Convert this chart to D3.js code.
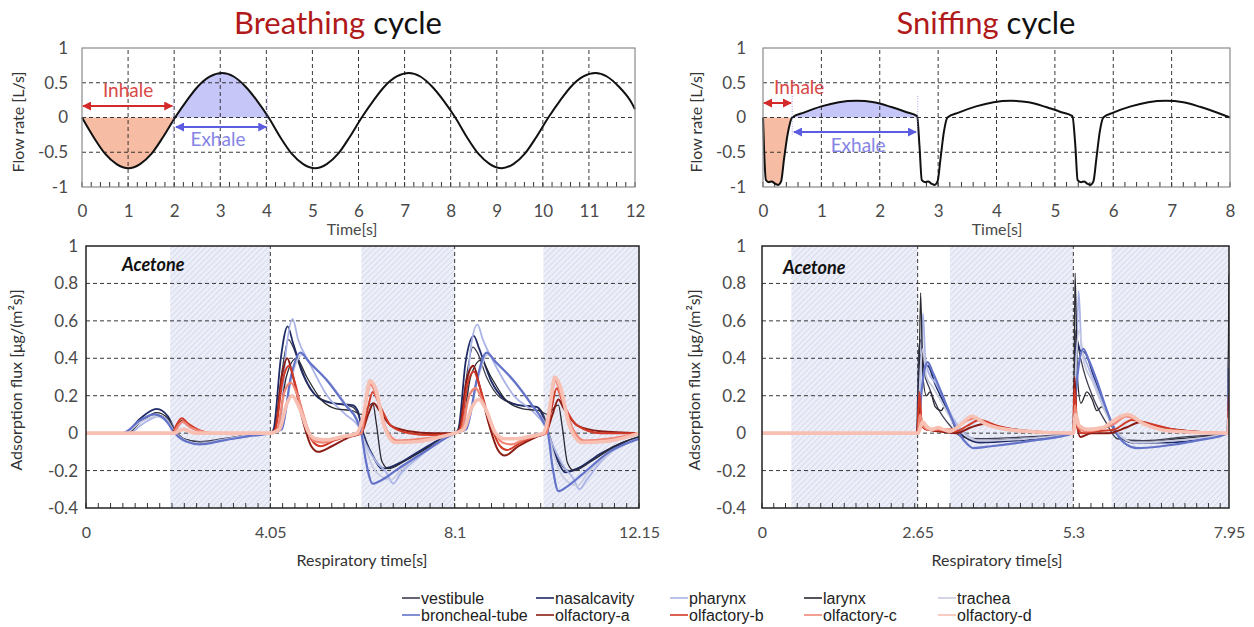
<!DOCTYPE html>
<html>
<head>
<meta charset="utf-8">
<script src="https://cdn.jsdelivr.net/npm/d3@7"></script>
<style>
  body { margin: 0; background: #fff; }
  svg { display: block; }
</style>
</head>
<body>
<svg id="chart" width="1254" height="627"></svg>
<script>
// ---- flow rate curves (top panels) ----
const breathFlow = [[0,0],[0.25,-0.28],[0.5,-0.52],[0.75,-0.67],[1.01,-0.73],[1.26,-0.67],[1.51,-0.52],[1.76,-0.28],[2.02,0],
  [2.27,0.24],[2.52,0.45],[2.78,0.59],[3.04,0.64],[3.29,0.59],[3.54,0.45],[3.8,0.24],[4.05,0],
  [4.3,-0.28],[4.55,-0.52],[4.8,-0.67],[5.06,-0.73],[5.31,-0.67],[5.56,-0.52],[5.81,-0.28],[6.07,0],
  [6.32,0.24],[6.57,0.45],[6.83,0.59],[7.09,0.64],[7.34,0.59],[7.59,0.45],[7.85,0.24],[8.1,0],
  [8.35,-0.28],[8.6,-0.52],[8.85,-0.67],[9.11,-0.73],[9.36,-0.67],[9.61,-0.52],[9.86,-0.28],[10.12,0],
  [10.37,0.24],[10.62,0.45],[10.88,0.59],[11.14,0.64],[11.39,0.59],[11.64,0.45],[11.9,0.24],[12.0,0.12]];

const sniffFlow = [[0,0],[0.02,-0.5],[0.05,-0.9],[0.1,-0.93],[0.15,-0.92],[0.2,-0.95],[0.26,-0.97],[0.31,-0.92],[0.36,-0.6],[0.42,-0.25],[0.5,0],
  [0.7,0.07],[1.0,0.16],[1.3,0.22],[1.6,0.24],[1.9,0.22],[2.2,0.15],[2.45,0.08],[2.64,0.02],
  [2.68,-0.4],[2.72,-0.9],[2.78,-0.93],[2.83,-0.92],[2.88,-0.95],[2.94,-0.97],[2.99,-0.92],[3.04,-0.6],[3.1,-0.2],[3.16,0],
  [3.35,0.07],[3.65,0.16],[3.95,0.22],[4.25,0.24],[4.55,0.22],[4.85,0.15],[5.1,0.08],[5.3,0.02],
  [5.35,-0.4],[5.39,-0.9],[5.45,-0.93],[5.5,-0.92],[5.55,-0.95],[5.61,-0.97],[5.66,-0.92],[5.71,-0.6],[5.77,-0.2],[5.83,0],
  [6.0,0.07],[6.3,0.16],[6.6,0.22],[6.9,0.24],[7.2,0.22],[7.5,0.15],[7.75,0.08],[8.0,0]];

const breathPhases = { inhale: [0, 2.02], exhale: [2.02, 4.05] };
const sniffPhases = { inhale: [0, 0.5], exhale: [0.5, 2.65] };

// ---- adsorption flux, breathing cycle ----
const breathVestibule = [[0,0],[0.9,0],[1.2,0.06],[1.5,0.1],[1.75,0.08],[1.95,0.01],[2.15,-0.03],[2.5,-0.045],[3.0,-0.03],[3.6,-0.01],[4.05,0],
  [4.14,0.01],[4.3,0.32],[4.45,0.5],[4.55,0.46],[4.75,0.32],[5.05,0.2],[5.45,0.16],[5.85,0.14],[5.98,0.1],[6.1,0.0],[6.35,-0.14],[6.58,-0.19],[6.9,-0.16],[7.4,-0.09],[7.8,-0.03],[8.1,0],
  [8.2,0.01],[8.36,0.3],[8.5,0.46],[8.6,0.43],[8.8,0.3],[9.1,0.19],[9.5,0.15],[9.9,0.14],[10.05,0.1],[10.17,0.0],[10.4,-0.15],[10.6,-0.2],[10.95,-0.17],[11.5,-0.09],[12.15,-0.02]];
const breathNasal = [[0,0],[0.85,0],[1.2,0.08],[1.55,0.13],[1.8,0.09],[1.97,0.01],[2.2,-0.04],[2.5,-0.055],[3.0,-0.035],[3.6,-0.01],[4.05,0],
  [4.12,0.02],[4.28,0.4],[4.43,0.57],[4.55,0.48],[4.8,0.3],[5.1,0.19],[5.4,0.16],[5.85,0.15],[5.97,0.12],[6.08,0.0],[6.3,-0.12],[6.5,-0.19],[6.8,-0.17],[7.3,-0.1],[7.8,-0.03],[8.1,0],
  [8.18,0.02],[8.34,0.38],[8.52,0.52],[8.64,0.45],[8.9,0.28],[9.2,0.18],[9.5,0.15],[9.9,0.14],[10.02,0.1],[10.15,0.0],[10.35,-0.14],[10.53,-0.21],[10.8,-0.19],[11.3,-0.11],[11.8,-0.05],[12.15,-0.02]];
const breathPharynx = [[0,0],[0.95,0],[1.25,0.05],[1.6,0.09],[1.85,0.06],[2.0,0.0],[2.3,-0.045],[2.7,-0.05],[3.3,-0.025],[4.05,0],
  [4.25,0.02],[4.4,0.45],[4.54,0.61],[4.66,0.5],[4.9,0.38],[5.3,0.2],[5.7,0.1],[6.0,0.03],[6.15,-0.06],[6.4,-0.16],[6.6,-0.21],[6.75,-0.27],[6.9,-0.22],[7.3,-0.13],[7.8,-0.04],[8.1,0],
  [8.3,0.02],[8.45,0.45],[8.6,0.58],[8.72,0.5],[9.0,0.36],[9.4,0.2],[9.8,0.12],[10.1,0.03],[10.25,-0.06],[10.5,-0.18],[10.7,-0.24],[10.84,-0.3],[11.0,-0.25],[11.4,-0.13],[11.9,-0.05],[12.15,-0.02]];
const breathLarynx = [[0,0],[0.9,0],[1.25,0.07],[1.55,0.11],[1.8,0.08],[1.97,0.01],[2.2,-0.035],[2.55,-0.05],[3.1,-0.03],[3.7,-0.01],[4.05,0],
  [4.2,0.02],[4.4,0.3],[4.62,0.4],[4.85,0.3],[5.2,0.17],[5.5,0.13],[5.85,0.12],[6.05,0.1],[6.2,0.14],[6.3,0.16],[6.38,0.05],[6.5,-0.15],[6.65,-0.19],[7.0,-0.15],[7.5,-0.08],[8.1,0],
  [8.25,0.02],[8.45,0.3],[8.68,0.39],[8.9,0.3],[9.25,0.17],[9.6,0.13],[9.95,0.12],[10.15,0.1],[10.3,0.14],[10.38,0.15],[10.46,0.04],[10.58,-0.16],[10.72,-0.2],[11.1,-0.15],[11.6,-0.07],[12.15,-0.02]];
const breathTrachea = [[0,0],[0.85,0],[1.2,0.06],[1.55,0.09],[1.8,0.06],[1.97,0.0],[2.2,-0.04],[2.5,-0.055],[3.0,-0.035],[3.6,-0.01],[4.05,0],
  [4.3,0.02],[4.5,0.28],[4.75,0.42],[4.95,0.37],[5.35,0.27],[5.75,0.14],[6.0,0.05],[6.1,-0.04],[6.3,-0.18],[6.55,-0.24],[6.7,-0.25],[6.9,-0.2],[7.5,-0.09],[8.1,0],
  [8.35,0.02],[8.6,0.28],[8.82,0.42],[9.05,0.37],[9.45,0.26],[9.85,0.13],[10.1,0.04],[10.2,-0.05],[10.4,-0.2],[10.65,-0.27],[10.8,-0.28],[11.0,-0.22],[11.6,-0.09],[12.15,-0.03]];
const breathBroncheal = [[0,0],[0.8,0],[1.2,0.07],[1.5,0.1],[1.78,0.06],[1.95,0.0],[2.2,-0.045],[2.5,-0.06],[3.0,-0.04],[3.6,-0.015],[4.05,0],
  [4.3,0.02],[4.5,0.3],[4.71,0.43],[4.9,0.38],[5.3,0.28],[5.7,0.15],[5.95,0.07],[6.05,0.0],[6.15,-0.15],[6.3,-0.27],[6.5,-0.25],[6.8,-0.2],[7.5,-0.09],[8.1,0],
  [8.35,0.02],[8.6,0.3],[8.8,0.43],[9.0,0.38],[9.4,0.28],[9.8,0.15],[10.05,0.06],[10.15,0.0],[10.25,-0.18],[10.38,-0.31],[10.6,-0.28],[10.9,-0.22],[11.5,-0.1],[12.15,-0.03]];
const breathOlfA = [[0,0],[1.9,0],[2.0,0.03],[2.1,0.065],[2.25,0.04],[2.5,0.01],[2.9,-0.005],[3.5,0],[4.05,0],
  [4.15,0.02],[4.3,0.3],[4.42,0.4],[4.55,0.3],[4.75,0.08],[4.95,-0.07],[5.1,-0.1],[5.4,-0.07],[5.8,-0.02],[6.05,0],[6.2,0.1],[6.32,0.16],[6.45,0.12],[6.7,0.04],[7.1,0.01],[7.6,0],[8.1,0],
  [8.2,0.02],[8.36,0.28],[8.51,0.36],[8.64,0.26],[8.85,0.05],[9.05,-0.09],[9.2,-0.12],[9.5,-0.07],[9.9,-0.02],[10.1,0],[10.25,0.1],[10.38,0.18],[10.5,0.13],[10.8,0.04],[11.3,0.01],[12.15,0]];
const breathOlfB = [[0,0],[1.9,0],[1.98,0.04],[2.1,0.08],[2.25,0.05],[2.5,0.015],[2.9,-0.005],[3.5,0],[4.05,0],
  [4.16,0.02],[4.32,0.28],[4.46,0.36],[4.6,0.26],[4.8,0.06],[5.0,-0.05],[5.15,-0.07],[5.45,-0.04],[5.85,-0.01],[6.05,0.0],[6.18,0.12],[6.3,0.22],[6.45,0.15],[6.7,0.04],[7.1,0.0],[7.6,-0.01],[8.1,0],
  [8.22,0.02],[8.38,0.26],[8.52,0.33],[8.66,0.24],[8.9,0.04],[9.1,-0.07],[9.25,-0.09],[9.55,-0.05],[9.95,-0.01],[10.1,0.0],[10.22,0.12],[10.34,0.24],[10.48,0.16],[10.8,0.04],[11.3,0.0],[12.15,0]];
const breathOlfC = [[0,0],[1.92,0],[2.0,0.03],[2.12,0.06],[2.3,0.03],[2.6,0.005],[3.2,-0.005],[4.05,0],
  [4.2,0.02],[4.36,0.22],[4.5,0.27],[4.65,0.2],[4.85,0.04],[5.0,-0.04],[5.2,-0.05],[5.5,-0.03],[5.9,-0.01],[6.05,0.0],[6.15,0.16],[6.25,0.26],[6.38,0.2],[6.6,0.02],[6.85,-0.04],[7.4,-0.03],[8.1,0],
  [8.25,0.02],[8.42,0.2],[8.56,0.24],[8.7,0.18],[8.95,0.02],[9.15,-0.05],[9.35,-0.06],[9.65,-0.03],[10.0,-0.01],[10.12,0.0],[10.22,0.18],[10.31,0.28],[10.44,0.2],[10.7,0.02],[10.95,-0.04],[11.5,-0.03],[12.15,0]];
const breathOlfD = [[0,0],[1.95,0],[2.05,0.015],[2.15,0.02],[2.4,0.0],[4.05,0],
  [4.25,0.02],[4.4,0.15],[4.53,0.2],[4.68,0.14],[4.9,0.0],[5.05,-0.03],[5.3,-0.035],[5.6,-0.02],[5.95,0.0],[6.1,0.1],[6.24,0.28],[6.36,0.24],[6.55,0.04],[6.8,-0.05],[7.3,-0.045],[7.8,-0.02],[8.1,0],
  [8.3,0.02],[8.48,0.14],[8.63,0.18],[8.78,0.13],[9.0,0.0],[9.2,-0.03],[9.45,-0.03],[9.8,-0.015],[10.05,0.0],[10.18,0.12],[10.3,0.3],[10.42,0.25],[10.62,0.04],[10.9,-0.05],[11.4,-0.045],[11.9,-0.02],[12.15,0]];

// ---- adsorption flux, sniffing cycle ----
const sniffVestibule = [[0,0],[2.63,0],[2.67,0.45],[2.71,0.5],[2.76,0.33],[2.85,0.24],[3.0,0.13],[3.2,0.04],[3.4,-0.02],[3.7,-0.03],[4.5,-0.02],[5.3,0],
  [5.34,0.55],[5.39,0.45],[5.48,0.33],[5.65,0.18],[5.85,0.06],[6.05,-0.03],[6.5,-0.04],[7.2,-0.02],[7.92,0],[7.95,0.55]];
const sniffNasal = [[0,0],[2.64,0],[2.69,0.42],[2.75,0.36],[2.82,0.36],[2.95,0.26],[3.1,0.16],[3.25,0.06],[3.45,-0.02],[3.7,-0.05],[4.3,-0.04],[5.3,0],
  [5.35,0.5],[5.42,0.44],[5.5,0.43],[5.65,0.3],[5.85,0.13],[6.05,0.0],[6.3,-0.05],[6.9,-0.05],[7.92,0],[7.95,0.5]];
const sniffPharynx = [[0,0],[2.66,0],[2.7,0.3],[2.74,0.64],[2.78,0.4],[2.84,0.32],[2.95,0.27],[3.1,0.18],[3.25,0.08],[3.45,0.0],[3.7,-0.04],[4.4,-0.03],[5.3,0],
  [5.34,0.2],[5.39,0.76],[5.44,0.45],[5.52,0.38],[5.65,0.28],[5.85,0.12],[6.05,0.0],[6.35,-0.05],[7.0,-0.04],[7.93,0],[7.95,0.45]];
const sniffLarynx = [[0,0],[2.63,0],[2.67,0.2],[2.7,0.75],[2.74,0.3],[2.8,0.2],[2.86,0.22],[2.95,0.14],[3.05,0.12],[3.12,0.15],[3.2,0.1],[3.3,0.02],[3.45,-0.02],[3.7,-0.04],[4.4,-0.03],[5.3,0],
  [5.31,0.2],[5.33,0.855],[5.37,0.3],[5.43,0.16],[5.53,0.22],[5.62,0.18],[5.7,0.12],[5.78,0.14],[5.86,0.11],[5.95,0.04],[6.1,-0.02],[6.4,-0.05],[7.1,-0.03],[7.92,0],[7.95,0.85]];
const sniffTrachea = [[0,0],[2.65,0],[2.7,0.35],[2.74,0.45],[2.8,0.3],[2.9,0.25],[3.05,0.17],[3.25,0.06],[3.45,-0.01],[3.7,-0.04],[4.5,-0.03],[5.3,0],
  [5.35,0.4],[5.4,0.55],[5.48,0.38],[5.62,0.28],[5.82,0.13],[6.05,0.0],[6.35,-0.05],[7.0,-0.04],[7.93,0],[7.95,0.4]];
const sniffBroncheal = [[0,0],[2.66,0],[2.71,0.2],[2.76,0.33],[2.82,0.38],[2.9,0.33],[3.05,0.22],[3.2,0.1],[3.35,0.0],[3.5,-0.06],[3.6,-0.08],[3.9,-0.07],[4.6,-0.04],[5.3,0],
  [5.34,0.2],[5.4,0.38],[5.47,0.45],[5.55,0.4],[5.7,0.28],[5.85,0.14],[6.0,0.02],[6.2,-0.06],[6.39,-0.08],[6.8,-0.07],[7.4,-0.04],[7.93,0],[7.95,0.35]];
const sniffOlfA = [[0,0],[2.64,0],[2.68,0.14],[2.72,0.04],[2.8,0.02],[3.0,0.01],[3.3,0.0],[3.55,0.03],[3.8,0.05],[4.1,0.03],[4.6,0.01],[5.3,0],
  [5.32,0.3],[5.36,0.05],[5.42,-0.02],[5.6,0.0],[5.9,0.0],[6.2,0.03],[6.45,0.06],[6.8,0.03],[7.3,0.01],[7.93,0],[7.95,0.2]];
const sniffOlfB = [[0,0],[2.64,0],[2.68,0.22],[2.72,0.05],[2.8,0.02],[3.0,0.015],[3.3,0.01],[3.5,0.04],[3.7,0.07],[4.0,0.04],[4.5,0.01],[5.3,0],
  [5.32,0.24],[5.36,0.04],[5.45,0.0],[5.7,0.01],[6.0,0.02],[6.3,0.07],[6.6,0.05],[7.1,0.015],[7.93,0],[7.95,0.2]];
const sniffOlfC = [[0,0],[2.65,0],[2.69,0.1],[2.74,0.04],[2.85,0.02],[3.05,0.02],[3.25,0.02],[3.45,0.06],[3.62,0.08],[3.9,0.04],[4.4,0.01],[5.3,0],
  [5.33,0.15],[5.37,0.04],[5.5,0.01],[5.75,0.02],[6.0,0.05],[6.2,0.09],[6.5,0.05],[7.0,0.01],[7.93,0],[7.95,0.12]];
const sniffOlfD = [[0,0],[2.66,0],[2.73,0.06],[2.82,0.03],[2.9,0.02],[3.0,0.03],[3.08,0.02],[3.2,0.01],[3.4,0.05],[3.57,0.09],[3.8,0.05],[4.3,0.015],[5.3,0],
  [5.34,0.1],[5.4,0.04],[5.55,0.02],[5.8,0.03],[6.0,0.07],[6.22,0.1],[6.5,0.05],[7.0,0.01],[7.93,0],[7.95,0.08]];

// exhale windows shaded in the flux panels
const breathExhaleBands = [[1.85, 4.05], [6.05, 8.1], [10.05, 12.15]];
const sniffExhaleBands = [[0.5, 2.65], [3.2, 5.3], [5.95, 7.95]];

const seriesNames = ['vestibule', 'nasalcavity', 'pharynx', 'larynx', 'trachea',
  'broncheal-tube', 'olfactory-a', 'olfactory-b', 'olfactory-c', 'olfactory-d'];
const breathSeries = [breathVestibule, breathNasal, breathPharynx, breathLarynx, breathTrachea,
  breathBroncheal, breathOlfA, breathOlfB, breathOlfC, breathOlfD];
const sniffSeries = [sniffVestibule, sniffNasal, sniffPharynx, sniffLarynx, sniffTrachea,
  sniffBroncheal, sniffOlfA, sniffOlfB, sniffOlfC, sniffOlfD];

const colors = ['#3e3e52', '#1f2b66', '#aab4e6', '#2a2a34', '#c8cbe0',
  '#6373c9', '#8a1c14', '#d23a28', '#ef8676', '#f7c0b2'];
const widths = [1.3, 1.8, 1.8, 1.3, 1.8, 2.2, 2, 2, 2.3, 3.6];

const FONT = 'Lato, "Open Sans", sans-serif';
const svg = d3.select('#chart');
const defs = svg.append('defs');

// hatch for exhale bands
const hatch = defs.append('pattern')
  .attr('id', 'hatch')
  .attr('patternUnits', 'userSpaceOnUse')
  .attr('width', 4).attr('height', 4)
  .attr('patternTransform', 'rotate(45)');
hatch.append('rect').attr('width', 4).attr('height', 4).attr('fill', '#eceef8');
hatch.append('line').attr('x1', 0).attr('y1', 0).attr('x2', 0).attr('y2', 4)
  .attr('stroke', '#d0d4ea').attr('stroke-width', 1.4);

function marker(id, color) {
  defs.append('marker')
    .attr('id', id)
    .attr('viewBox', '0 0 10 10')
    .attr('refX', 9).attr('refY', 5)
    .attr('markerWidth', 4.5).attr('markerHeight', 4.5)
    .attr('orient', 'auto-start-reverse')
    .append('path').attr('d', 'M0,0L10,5L0,10z').attr('fill', color);
}
marker('arrRed', '#d42a2a');
marker('arrBlue', '#5c5ce0');

const fmt = d => String(d);

function styleAxis(ax, size) {
  ax.select('.domain').remove();
  ax.attr('font-family', FONT).attr('font-size', size);
  ax.selectAll('text').attr('fill', '#4a4a4a');
}

function dashedGrid(g, x, y, xs, ys) {
  const [xa, xb] = x.range(), [ya, yb] = y.range();
  g.append('g').selectAll('line').data(ys).join('line')
    .attr('x1', xa).attr('x2', xb).attr('y1', d => y(d)).attr('y2', d => y(d));
  g.append('g').selectAll('line').data(xs).join('line')
    .attr('x1', d => x(d)).attr('x2', d => x(d)).attr('y1', ya).attr('y2', yb);
  g.selectAll('line').attr('stroke', '#222').attr('stroke-width', 0.9).attr('stroke-dasharray', '4,3');
}

function minorTicks(g, x, y, step) {
  const [x0, x1] = x.domain();
  const ticks = d3.range(x0, x1 + 1e-6, step);
  const yb = y.range()[0];
  g.append('g').selectAll('line').data(ticks).join('line')
    .attr('x1', d => x(d)).attr('x2', d => x(d))
    .attr('y1', yb).attr('y2', yb - 5)
    .attr('stroke', '#333').attr('stroke-width', 1);
}

function rotLabel(text, cx, cy, size) {
  svg.append('text')
    .attr('transform', `translate(${cx},${cy}) rotate(-90)`)
    .attr('text-anchor', 'middle')
    .attr('font-family', FONT).attr('font-size', size).attr('fill', '#333')
    .text(text);
}

// ---------------- top panels ----------------
function flowPanel(cfg) {
  const x = d3.scaleLinear().domain(cfg.xDomain).range(cfg.xRange);
  const y = d3.scaleLinear().domain([-1, 1]).range([187, 48]);
  const g = svg.append('g');
  const curve = d3.curveMonotoneX;

  const area = d3.area().x(d => x(d[0])).y0(y(0)).y1(d => y(d[1])).curve(curve);
  const inh = cfg.data.filter(d => d[0] >= cfg.phases.inhale[0] && d[0] <= cfg.phases.inhale[1]);
  const exh = cfg.data.filter(d => d[0] >= cfg.phases.exhale[0] && d[0] <= cfg.phases.exhale[1]);
  g.append('path').datum(inh).attr('d', area).attr('fill', '#f6bda4');
  g.append('path').datum(exh).attr('d', area).attr('fill', '#c6c6f8');

  dashedGrid(g.append('g'), x, y, d3.range(1, cfg.xDomain[1]), [-0.5, 0, 0.5]);
  minorTicks(g, x, y, 0.2);

  g.append('path').datum(cfg.data)
    .attr('d', d3.line().x(d => x(d[0])).y(d => y(d[1])).curve(curve))
    .attr('fill', 'none').attr('stroke', '#111').attr('stroke-width', 2);

  g.append('rect')
    .attr('x', cfg.xRange[0]).attr('y', 48)
    .attr('width', cfg.xRange[1] - cfg.xRange[0]).attr('height', 139)
    .attr('fill', 'none').attr('stroke', '#8a8a8a').attr('stroke-width', 1.2);

  const ya = g.append('g').attr('transform', `translate(${cfg.xRange[0]},0)`)
    .call(d3.axisLeft(y).tickValues([-1, -0.5, 0, 0.5, 1]).tickSize(0).tickPadding(cfg.yPad).tickFormat(fmt));
  styleAxis(ya, 17);
  const xa = g.append('g').attr('transform', `translate(0,187)`)
    .call(d3.axisBottom(x).tickValues(d3.range(0, cfg.xDomain[1] + 1)).tickSize(0).tickPadding(18).tickFormat(fmt));
  styleAxis(xa, 17);

  g.append('text').attr('x', cfg.timeX).attr('y', 235).attr('text-anchor', 'middle')
    .attr('font-family', FONT).attr('font-size', 16).attr('fill', '#4a4a4a').text('Time[s]');
  rotLabel('Flow rate [L/s]', cfg.yLabelX, 122, 16);

  const t = svg.append('text').attr('x', cfg.titleX).attr('y', 34).attr('text-anchor', 'middle')
    .attr('font-family', FONT).attr('font-size', 31);
  t.append('tspan').attr('fill', '#b01a1a').text(cfg.title);
  t.append('tspan').attr('fill', '#111').text(' cycle');

  // phase annotations
  const a = cfg.ann;
  g.selectAll(null).data(a.guides).join('line')
    .attr('x1', d => x(d)).attr('x2', d => x(d)).attr('y1', 96).attr('y2', 136)
    .attr('stroke', '#8c8ce6').attr('stroke-width', 0.8).attr('stroke-dasharray', '1,1.5');
  g.append('line').attr('x1', x(a.inh[0]) + 1).attr('x2', x(a.inh[1]))
    .attr('y1', a.inhY).attr('y2', a.inhY)
    .attr('stroke', '#d42a2a').attr('stroke-width', 2)
    .attr('marker-start', 'url(#arrRed)').attr('marker-end', 'url(#arrRed)');
  g.append('line').attr('x1', x(a.exh[0])).attr('x2', x(a.exh[1]))
    .attr('y1', a.exhY).attr('y2', a.exhY)
    .attr('stroke', '#5c5ce0').attr('stroke-width', 2)
    .attr('marker-start', 'url(#arrBlue)').attr('marker-end', 'url(#arrBlue)');
  g.append('text').attr('x', x(a.inhText[0])).attr('y', a.inhText[1]).attr('text-anchor', 'middle')
    .attr('font-family', FONT).attr('font-size', 19).attr('fill', '#d84848').text('Inhale');
  g.append('text').attr('x', x(a.exhText[0])).attr('y', a.exhText[1]).attr('text-anchor', 'middle')
    .attr('font-family', FONT).attr('font-size', 19).attr('fill', '#8585e6').text('Exhale');
}

flowPanel({
  data: breathFlow, phases: breathPhases, xDomain: [0, 12], xRange: [82, 635], yPad: 14,
  timeX: 352, yLabelX: 24, titleX: 338, title: 'Breathing',
  ann: { guides: [1.98, 4.02], inh: [0, 1.96], inhY: 106, exh: [2.04, 4.0], exhY: 127,
         inhText: [1.0, 97], exhText: [2.95, 146] }
});
flowPanel({
  data: sniffFlow, phases: sniffPhases, xDomain: [0, 8], xRange: [763, 1230], yPad: 17,
  timeX: 997, yLabelX: 702, titleX: 986, title: 'Sniffing',
  ann: { guides: [0.5, 2.65], inh: [0, 0.48], inhY: 103, exh: [0.53, 2.62], exhY: 132,
         inhText: [0.62, 94], exhText: [1.63, 152] }
});

// ---------------- bottom panels ----------------
function fluxPanel(cfg, idx) {
  const x = d3.scaleLinear().domain(cfg.xDomain).range(cfg.xRange);
  const y = d3.scaleLinear().domain([-0.4, 1]).range([508, 246]);
  const g = svg.append('g');
  const [xa, xb] = cfg.xRange;

  g.selectAll(null).data(cfg.bands).join('rect')
    .attr('x', d => x(d[0])).attr('width', d => x(d[1]) - x(d[0]))
    .attr('y', 246).attr('height', 262).attr('fill', 'url(#hatch)');

  dashedGrid(g.append('g'), x, y, cfg.xTicks.slice(1, -1), [-0.2, 0, 0.2, 0.4, 0.6, 0.8]);
  minorTicks(g, x, y, cfg.minor);

  defs.append('clipPath').attr('id', 'clip' + idx)
    .append('rect').attr('x', xa).attr('y', 246).attr('width', xb - xa).attr('height', 262);

  const line = d3.line().x(d => x(d[0])).y(d => y(d[1])).curve(d3.curveMonotoneX);
  g.append('g').attr('clip-path', `url(#clip${idx})`)
    .selectAll('path').data(cfg.series).join('path')
    .attr('d', line).attr('fill', 'none')
    .attr('stroke', (d, i) => colors[i])
    .attr('stroke-width', (d, i) => widths[i])
    .attr('stroke-linejoin', 'round');

  g.append('rect').attr('x', xa).attr('y', 246).attr('width', xb - xa).attr('height', 262)
    .attr('fill', 'none').attr('stroke', '#222').attr('stroke-width', 1.5);

  const yAx = g.append('g').attr('transform', `translate(${xa},0)`)
    .call(d3.axisLeft(y).tickValues([-0.4, -0.2, 0, 0.2, 0.4, 0.6, 0.8, 1]).tickSize(0).tickPadding(cfg.yPad).tickFormat(fmt));
  styleAxis(yAx, 17);
  const xAx = g.append('g').attr('transform', 'translate(0,508)')
    .call(d3.axisBottom(x).tickValues(cfg.xTicks).tickSize(0).tickPadding(19).tickFormat(fmt));
  styleAxis(xAx, 16);

  g.append('text').attr('x', cfg.timeX).attr('y', 566).attr('text-anchor', 'middle')
    .attr('font-family', FONT).attr('font-size', 16).attr('fill', '#333').text('Respiratory time[s]');
  g.append('text').attr('x', cfg.acetone[0]).attr('y', cfg.acetone[1])
    .attr('font-family', FONT).attr('font-size', 18).attr('font-weight', 'bold').attr('font-style', 'italic')
    .attr('fill', '#111').text('Acetone');
  rotLabel('Adsorption flux [μg/(m²s)]', cfg.yLabelX, 380, 16);
}

fluxPanel({
  series: breathSeries, bands: breathExhaleBands, xDomain: [0, 12.15], xRange: [86, 639],
  xTicks: [0, 4.05, 8.1, 12.15], minor: 0.27, yPad: 8, timeX: 362, acetone: [122, 271], yLabelX: 22
}, 0);
fluxPanel({
  series: sniffSeries, bands: sniffExhaleBands, xDomain: [0, 7.95], xRange: [762, 1229],
  xTicks: [0, 2.65, 5.3, 7.95], minor: 0.2, yPad: 16, timeX: 997, acetone: [783, 274], yLabelX: 700
}, 1);

// ---------------- legend ----------------
const legendCols = [402, 536, 670, 804, 938];
const legend = svg.append('g').attr('font-family', '"Liberation Sans", Arial, sans-serif').attr('font-size', 16);
const items = legend.selectAll('g').data(seriesNames).join('g')
  .attr('transform', (d, i) => `translate(${legendCols[i % 5]},${i < 5 ? 598 : 615})`);
items.append('line').attr('x1', 0).attr('x2', 18).attr('y1', 0).attr('y2', 0)
  .attr('stroke', (d, i) => colors[i]).attr('stroke-width', 1.6);
items.append('text').attr('x', 19).attr('y', 6).attr('fill', '#222').text(d => d);
</script>
</body>
</html>
